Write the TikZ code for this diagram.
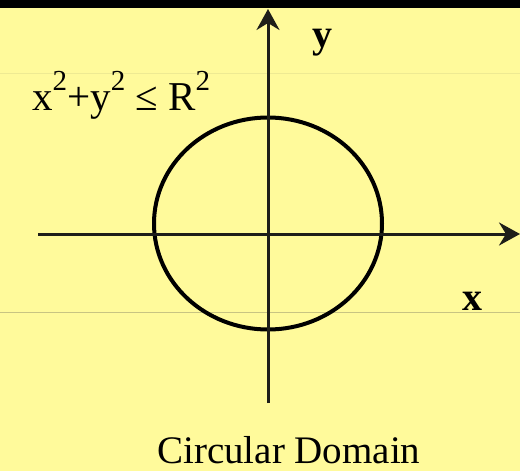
\documentclass[tikz,border=0pt]{standalone}
\usepackage{fontspec}
\setmainfont{Liberation Serif}
\usetikzlibrary{arrows.meta}
\definecolor{bgyellow}{RGB}{255,250,155}
\definecolor{axisgray}{RGB}{30,30,25}
\definecolor{faintline}{RGB}{200,196,130}
\tikzset{
  axisline/.style={draw=axisgray,line width=3pt,-{Stealth[length=21pt,width=23pt,inset=7pt]}},
  circdomain/.style={draw=black,line width=4pt},
  lbl/.style={inner sep=0pt,font=\fontsize{39}{45}\selectfont},
  formula/.style={inner sep=0pt,font=\fontsize{41}{47}\selectfont},
  axislbl/.style={inner sep=0pt,font=\fontsize{40}{46}\selectfont\bfseries}
}
\newcommand{\supr}[1]{\raisebox{20pt}{\fontsize{29}{32}\selectfont #1}}
\begin{document}
\begin{tikzpicture}[x=1pt,y=-1pt]
\useasboundingbox (0,0) rectangle (520,471);
\fill[bgyellow] (0,0) rectangle (520,471);
\fill[black] (0,0) rectangle (520,8);
\draw[faintline,line width=1pt] (0,312) -- (520,312);
\draw[faintline!30!bgyellow,line width=0.8pt] (0,73) -- (520,73);
\coordinate (ybot) at (268,403);
\coordinate (ytop) at (268,9);
\coordinate (xleft) at (38,234);
\coordinate (xright) at (520,234);
\coordinate (c) at (268,223.5);
\draw[circdomain] (c) ellipse [x radius=114, y radius=106];
\draw[axisline] (ybot) -- (ytop);
\draw[axisline] (xleft) -- (xright);
\node[axislbl,anchor=base] (ylab) at (322,47) {y};
\node[axislbl,anchor=base] (xlab) at (472,310) {x};
\node[formula,anchor=base west] (ineq) at (32,110) {x\supr{2}+y\supr{2} ≤ R\supr{2}};
\node[lbl,anchor=base west] (title) at (157,463) {Circular Domain};
\end{tikzpicture}
\end{document}
